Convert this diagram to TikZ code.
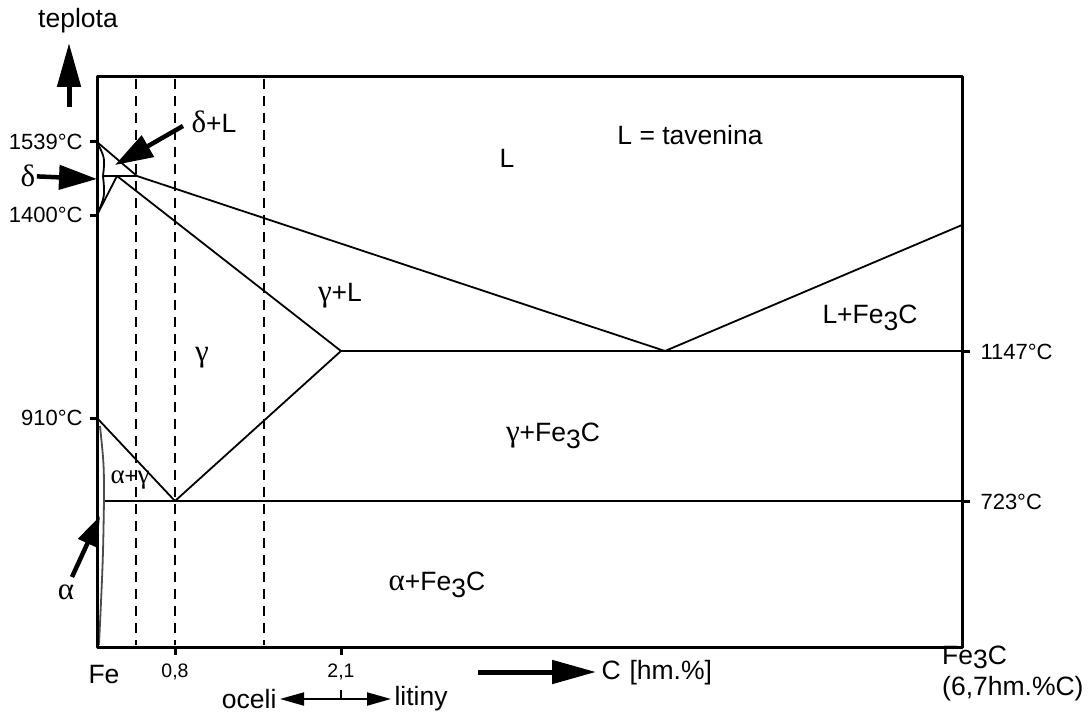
\documentclass[tikz,border=0pt]{standalone}
\usepackage{fontspec}
\setmainfont{Liberation Sans}
\newfontfamily\greco{Liberation Serif}
\usetikzlibrary{arrows.meta}

% Fe3C con il pedice abbassato
\newcommand{\fec}{Fe\raisebox{-0.45ex}{3}C}
% lettere greche un po' piu grandi del testo
\newcommand{\gr}[1]{{\greco\fontsize{31}{31}\selectfont #1}}

\begin{document}
\begin{tikzpicture}[x=1pt, y=-1pt, line join=round,
    bordo/.style={line width=3pt},
    curva/.style={line width=1.8pt},
    tratto/.style={line width=2pt, dash pattern=on 10pt off 7pt},
    freccia/.style={line width=4.5pt, -{Triangle[length=38pt, width=24pt]}},
    frecciona/.style={line width=5pt, -{Triangle[length=44pt, width=23pt]}},
    temp/.style={font=\fontsize{22}{22}\selectfont},
    fase/.style={font=\fontsize{26.5}{26.5}\selectfont},
    numero/.style={font=\fontsize{19.5}{19.5}\selectfont}]

    \useasboundingbox (0,0) rectangle (1091,714);

    % Cornice del diagramma (pixel, asse y verso il basso)
    \coordinate (so) at (97,77);
    \coordinate (se) at (962,77);
    \coordinate (gi) at (97,647);
    \coordinate (ge) at (962,647);

    % Punti caratteristici
    \coordinate (fe1539) at (97,142);
    \coordinate (fe1400) at (97,215);
    \coordinate (fe910) at (97,418);
    \coordinate (delta) at (103,176);   % massimo della fase delta
    \coordinate (gper) at (117,176);    % gamma peritettico
    \coordinate (lper) at (137,176);    % liquido peritettico
    \coordinate (geut) at (341,351);    % 2,1 %C
    \coordinate (eut) at (665,351);     % eutettico
    \coordinate (lfec) at (962,225);
    \coordinate (r1147) at (962,351);
    \coordinate (eutd) at (175,501);    % eutettoide 0,8 %C
    \coordinate (aeutd) at (105,501);
    \coordinate (r723) at (962,501);

    % Linee tratteggiate verticali
    \foreach \xx in {136,175,264}
        \draw[tratto] (\xx,79) -- (\xx,645);

    % Liquidus e linee di fase
    \draw[curva] (fe1539) -- (lper) -- (eut) -- (lfec);
    \draw[curva] (fe1539) .. controls (105,158) .. (delta) .. controls (105,196) .. (fe1400);
    \draw[curva] (fe1400) -- (gper) -- (geut);
    \draw[curva] (delta) -- (lper);
    \draw[curva] (geut) -- (r1147);
    \draw[curva] (geut) -- (eutd) -- (fe910);
    \draw[curva] (aeutd) -- (r723);
    \draw[curva, black!70] (100,426) .. controls (104,465) .. (104,501) .. controls (103,560) .. (99,645);

    % Cornice e tacche
    \draw[bordo] (so) rectangle (ge);
    \foreach \pt in {fe1539,fe1400,fe910}
        \draw[bordo] (\pt) -- ++(-7,0);
    \foreach \pt in {r1147,r723}
        \draw[bordo] (\pt) -- ++(8,0);
    \draw[bordo] (175,647) -- (175,655);
    \draw[bordo] (341,647) -- (341,655);

    % Temperature
    \node[temp, anchor=east] (t1539) at (86,142) {1539°C};
    \node[temp, anchor=east] (t1400) at (86,215) {1400°C};
    \node[temp, anchor=east] (t910) at (86,418) {910°C};
    \node[temp, anchor=west] (t1147) at (977,352) {1147°C};
    \node[temp, anchor=west] (t723) at (977,502) {723°C};

    % Asse della temperatura
    \node[fase] (teplota) at (78,21) {teplota};
    \coordinate (tcoda) at (69,107);
    \coordinate (tpunta) at (69,43);
    \draw[frecciona] (tcoda) -- (tpunta);

    % Frecce verso le piccole regioni
    \node[fase] (ldelta) at (28,176) {\gr{δ}};
    \coordinate (pdelta) at (97,179);
    \draw[freccia, shorten <=-2pt] (ldelta) -- (pdelta);
    \node[fase] (ldeltal) at (214,122) {\gr{δ}+L};
    \coordinate (cdeltal) at (183,126);
    \coordinate (pdeltal) at (115,165);
    \draw[freccia] (cdeltal) -- (pdeltal);
    \node[fase] (lalfa) at (66,592) {\gr{α}};
    \coordinate (calfa) at (72,577);
    \coordinate (palfa) at (100,516);
    \draw[freccia, -{Triangle[length=30pt, width=20pt]}] (calfa) -- (palfa);

    % Regioni del diagramma
    \node[fase] (liq) at (507,158) {L};
    \node[fase] (tav) at (690,135) {L = tavenina};
    \node[fase] (gl) at (340,296) {\gr{γ}+L};
    \node[fase] (gam) at (202,358) {\gr{γ}};
    \node[fase] (lfe) at (870,318) {L+\fec};
    \node[fase] (gfe) at (553,436) {\gr{γ}+\fec};
    \node[font=\fontsize{22}{22}\selectfont] (ag) at (130,480)
        {{\greco\fontsize{27}{27}\selectfont α}+{\greco\fontsize{27}{27}\selectfont γ}};
    \node[fase] (afe) at (437,585) {\gr{α}+\fec};

    % Asse delle concentrazioni
    \node[fase] (fe) at (104,675) {Fe};
    \node[numero] (n08) at (175,672) {0,8};
    \node[numero] (n21) at (341,672) {2,1};
    \coordinate (ccoda) at (478,672);
    \coordinate (cpunta) at (596,672);
    \draw[frecciona] (ccoda) -- (cpunta);
    \node[fase, anchor=west] (chm) at (598,673) {C\,\,[hm.\%]};
    \node[fase, anchor=base west, inner sep=0pt] (fe3c) at (942,664)
        {Fe\raisebox{-0.3ex}{3}C};
    \node[fase, anchor=base west, inner sep=0pt] (perc) at (942,695) {(6,7hm.\%C)};

    % Acciai e ghise
    \node[fase, anchor=east] (oceli) at (280,699) {oceli};
    \node[fase, anchor=west] (litiny) at (391,699) {litiny};
    \draw[line width=2pt, {Triangle[length=24pt, width=13pt]}-{Triangle[length=24pt, width=13pt]}]
        (oceli) -- (litiny);
    \draw[line width=2pt] (341,690) -- (341,700);
\end{tikzpicture}
\end{document}
